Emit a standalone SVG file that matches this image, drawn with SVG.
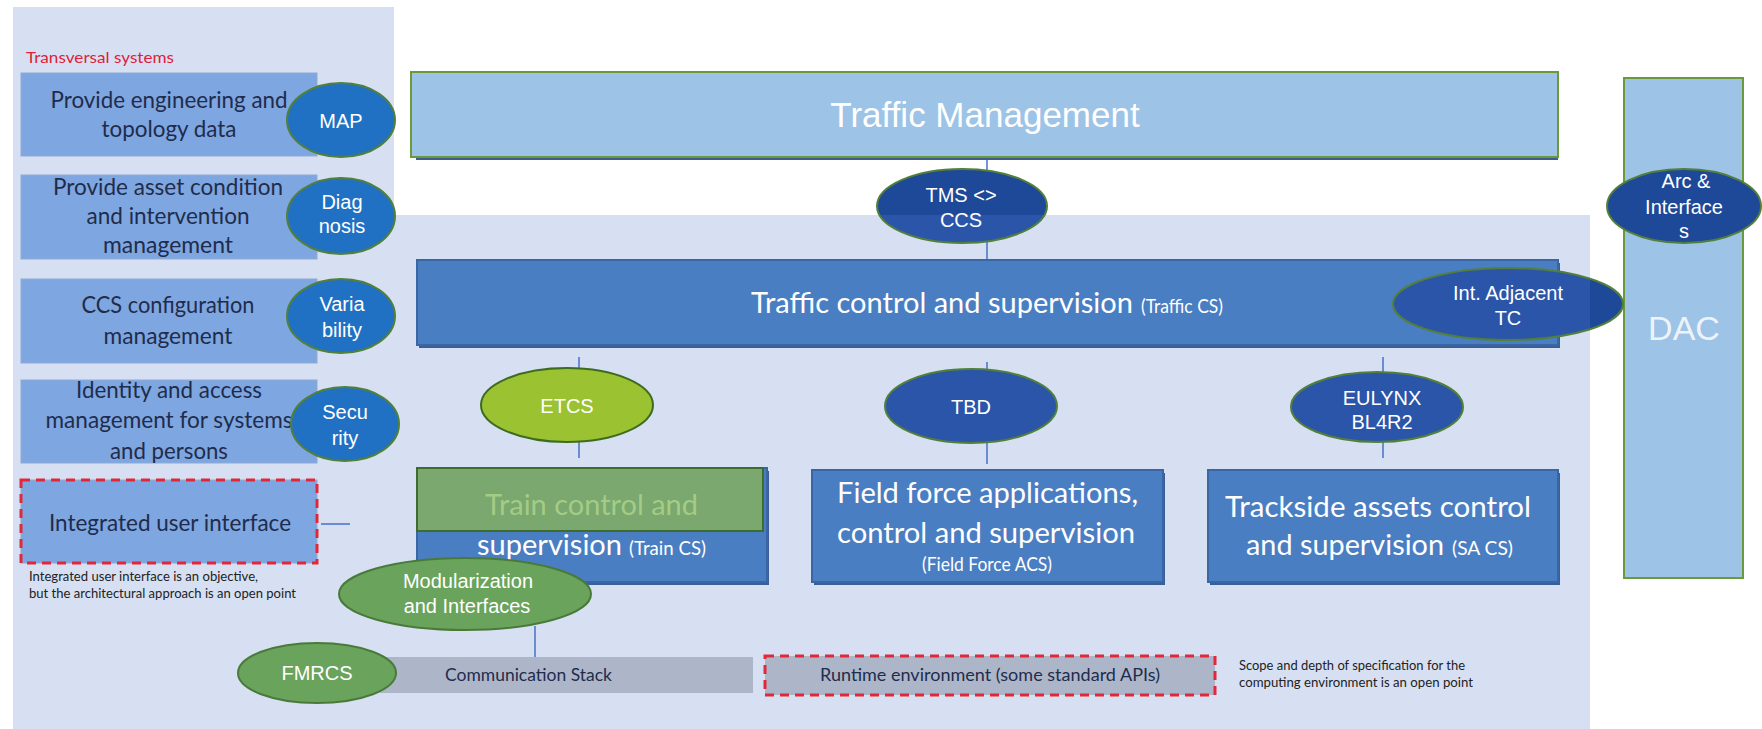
<svg xmlns="http://www.w3.org/2000/svg" width="1762" height="729" viewBox="0 0 1762 729">
  <style>
    .panel { fill: #D6E0F2; }
    .lbox { fill: #7EA6E0; stroke: #8FAAD4; stroke-width: 1; }
    .ltxt { font-family: Lato, "Liberation Sans", sans-serif; font-size: 23px; fill: #1F2C4C; text-anchor: middle; }
    .oval-l { fill: #2071C4; stroke: #527F3A; stroke-width: 2; }
    .oval-d { fill: #2A55A8; stroke: #527F3A; stroke-width: 2; }
    .oval-dd { fill: #1E4898; }
    .oval-g { fill: #6AA35C; stroke: #4A7A3A; stroke-width: 2; }
    .ring { fill: none; stroke: #527F3A; stroke-width: 2; }
    .otxt { font-family: "Liberation Sans", Arial, sans-serif; font-size: 20px; fill: #FFFFFF; text-anchor: middle; }
    .bbox { fill: #4A7EC2; stroke: #3A66A3; stroke-width: 2; }
    .btxt { font-family: Lato, "Liberation Sans", sans-serif; font-size: 28px; fill: #FFFFFF; }
    .stxt { font-family: Lato, "Liberation Sans", sans-serif; font-size: 19px; fill: #FFFFFF; }
    .conn { stroke: #4472C4; stroke-width: 1.5; fill: none; }
    .dash { fill: none; stroke: #E3263A; stroke-width: 3; stroke-dasharray: 9 6; }
    .gbar { fill: #ADB6C9; }
    .note { font-family: Lato, "Liberation Sans", sans-serif; font-size: 13px; fill: #222222; }
    .bar-txt { font-family: Lato, "Liberation Sans", sans-serif; font-size: 17px; fill: #1F2C4C; }
  </style>
  <defs>
    <clipPath id="inPanel">
      <rect x="13" y="215" width="1577" height="514"/>
    </clipPath>
  </defs>

  <rect width="1762" height="729" fill="#FFFFFF"/>

  <!-- background areas -->
  <g id="backgrounds">
    <rect class="panel" x="13" y="7" width="381" height="722"/>
    <rect class="panel" x="13" y="215" width="1577" height="514"/>
    <text x="26" y="63" font-family="Lato, 'Liberation Sans', sans-serif" font-size="15" fill="#E0203A" textLength="148" lengthAdjust="spacingAndGlyphs">Transversal systems</text>
  </g>

  <!-- connectors -->
  <g id="connectors">
    <line class="conn" x1="987" y1="160" x2="987" y2="260"/>
    <line class="conn" x1="579" y1="357" x2="579" y2="458"/>
    <line class="conn" x1="987" y1="362" x2="987" y2="464"/>
    <line class="conn" x1="1383" y1="357" x2="1383" y2="458"/>
    <line class="conn" x1="535" y1="626" x2="535" y2="657"/>
    <line class="conn" x1="321" y1="524" x2="350" y2="524"/>
  </g>

  <!-- Traffic Management -->
  <g id="traffic-management">
    <rect x="416" y="76" width="1142" height="84" fill="#3B5E8F"/>
    <rect x="411" y="72" width="1147" height="85" fill="#9DC3E6" stroke="#6A9A3A" stroke-width="2"/>
    <text x="985" y="127" font-family="'Liberation Sans', Arial, sans-serif" font-size="35" fill="#FFFFFF" text-anchor="middle">Traffic Management</text>
  </g>

  <!-- DAC column -->
  <g id="dac">
    <rect x="1624" y="78" width="119" height="500" fill="#9DC3E6" stroke="#6A9A3A" stroke-width="2"/>
    <text x="1684" y="340" font-family="'Liberation Sans', Arial, sans-serif" font-size="34" fill="#EEF3FA" text-anchor="middle">DAC</text>
  </g>

  <!-- Traffic control and supervision -->
  <g id="traffic-cs">
    <rect x="419" y="263" width="1141" height="85" fill="#3A5E96"/>
    <rect class="bbox" x="417" y="260" width="1141" height="85"/>
    <text class="btxt" x="751" y="313" font-size="31" textLength="382" lengthAdjust="spacingAndGlyphs">Traffic control and supervision</text>
    <text class="stxt" x="1141" y="313" textLength="82" lengthAdjust="spacingAndGlyphs">(Traffic CS)</text>
  </g>

  <!-- Left column: transversal systems -->
  <g id="engineering-data">
    <rect class="lbox" x="21" y="73" width="296" height="83"/>
    <text class="ltxt" x="169" y="108" textLength="237" lengthAdjust="spacingAndGlyphs">Provide engineering and</text>
    <text class="ltxt" x="169" y="137" textLength="135" lengthAdjust="spacingAndGlyphs">topology data</text>
  </g>
  <g id="asset-condition">
    <rect class="lbox" x="21" y="175" width="296" height="84"/>
    <text class="ltxt" x="168" y="195" textLength="230" lengthAdjust="spacingAndGlyphs">Provide asset condition</text>
    <text class="ltxt" x="168" y="224" textLength="163" lengthAdjust="spacingAndGlyphs">and intervention</text>
    <text class="ltxt" x="168" y="253" textLength="130" lengthAdjust="spacingAndGlyphs">management</text>
  </g>
  <g id="ccs-configuration">
    <rect class="lbox" x="21" y="279" width="296" height="84"/>
    <text class="ltxt" x="168" y="313" textLength="173" lengthAdjust="spacingAndGlyphs">CCS configuration</text>
    <text class="ltxt" x="168" y="344" textLength="129" lengthAdjust="spacingAndGlyphs">management</text>
  </g>
  <g id="identity-access">
    <rect class="lbox" x="21" y="380" width="296" height="83"/>
    <text class="ltxt" x="169" y="398" textLength="186" lengthAdjust="spacingAndGlyphs">Identity and access</text>
    <text class="ltxt" x="169" y="428" textLength="247" lengthAdjust="spacingAndGlyphs">management for systems</text>
    <text class="ltxt" x="169" y="459" textLength="118" lengthAdjust="spacingAndGlyphs">and persons</text>
  </g>
  <g id="integrated-ui">
    <rect class="lbox" x="21" y="480" width="296" height="83" stroke="none"/>
    <rect class="dash" x="21" y="480" width="296" height="83"/>
    <text class="ltxt" x="170" y="531" textLength="242" lengthAdjust="spacingAndGlyphs">Integrated user interface</text>
    <text class="note" x="29" y="581" textLength="229" lengthAdjust="spacingAndGlyphs">Integrated user interface is an objective,</text>
    <text class="note" x="29" y="598" textLength="267" lengthAdjust="spacingAndGlyphs">but the architectural approach is an open point</text>
  </g>

  <!-- left ovals -->
  <g id="map">
    <ellipse class="oval-l" cx="341" cy="120" rx="54" ry="37"/>
    <text class="otxt" x="341" y="128">MAP</text>
  </g>
  <g id="diagnosis">
    <ellipse class="oval-l" cx="341" cy="216" rx="54" ry="38"/>
    <text class="otxt" x="342" y="209">Diag</text>
    <text class="otxt" x="342" y="233">nosis</text>
  </g>
  <g id="variability">
    <ellipse class="oval-l" cx="341" cy="316" rx="54" ry="37"/>
    <text class="otxt" x="342" y="311">Varia</text>
    <text class="otxt" x="342" y="337">bility</text>
  </g>
  <g id="security">
    <ellipse class="oval-l" cx="345" cy="424" rx="54" ry="37"/>
    <text class="otxt" x="345" y="419">Secu</text>
    <text class="otxt" x="345" y="445">rity</text>
  </g>

  <!-- interface ovals -->
  <g id="tms-ccs">
    <ellipse class="oval-dd" cx="962" cy="206" rx="85" ry="37"/>
    <ellipse fill="#2A55A8" cx="962" cy="206" rx="85" ry="37" clip-path="url(#inPanel)"/>
    <ellipse class="ring" cx="962" cy="206" rx="85" ry="37"/>
    <text class="otxt" x="961" y="202">TMS &lt;&gt;</text>
    <text class="otxt" x="961" y="227">CCS</text>
  </g>
  <g id="arc-interfaces">
    <ellipse class="oval-dd" cx="1684" cy="206" rx="77" ry="37" stroke="#527F3A" stroke-width="2"/>
    <text class="otxt" x="1686" y="188">Arc &amp;</text>
    <text class="otxt" x="1684" y="214">Interface</text>
    <text class="otxt" x="1684" y="238">s</text>
  </g>
  <g id="int-adjacent">
    <ellipse class="oval-dd" cx="1508" cy="304" rx="115" ry="36"/>
    <ellipse fill="#2A55A8" cx="1508" cy="304" rx="115" ry="36" clip-path="url(#inPanel)"/>
    <ellipse class="ring" cx="1508" cy="304" rx="115" ry="36"/>
    <text class="otxt" x="1508" y="300">Int. Adjacent</text>
    <text class="otxt" x="1508" y="325">TC</text>
  </g>

  <!-- subsystem boxes -->
  <g id="train-cs">
    <rect x="419" y="471" width="350" height="114" fill="#3A5E96"/>
    <rect class="bbox" x="417" y="468" width="350" height="114"/>
    <rect x="417" y="468" width="346" height="63" fill="#7AA86E" stroke="#3E6B2E" stroke-width="2"/>
    <text class="btxt" x="485" y="515" fill="#A4CC86" style="fill:#A4CC86" textLength="213" lengthAdjust="spacingAndGlyphs">Train control and</text>
    <text class="btxt" x="477" y="555" font-size="31" textLength="145" lengthAdjust="spacingAndGlyphs">supervision</text>
    <text class="stxt" x="629" y="555" textLength="77" lengthAdjust="spacingAndGlyphs">(Train CS)</text>
  </g>
  <g id="field-force">
    <rect x="814" y="473" width="351" height="112" fill="#3A5E96"/>
    <rect class="bbox" x="812" y="470" width="351" height="112"/>
    <text class="btxt" x="837" y="503" textLength="301" lengthAdjust="spacingAndGlyphs">Field force applications,</text>
    <text class="btxt" x="837" y="543" textLength="298" lengthAdjust="spacingAndGlyphs">control and supervision</text>
    <text class="stxt" x="922" y="571" textLength="130" lengthAdjust="spacingAndGlyphs">(Field Force ACS)</text>
  </g>
  <g id="trackside">
    <rect x="1210" y="473" width="350" height="112" fill="#3A5E96"/>
    <rect class="bbox" x="1208" y="470" width="350" height="112"/>
    <text class="btxt" x="1225" y="517" textLength="306" lengthAdjust="spacingAndGlyphs">Trackside assets control</text>
    <text class="btxt" x="1246" y="555" textLength="198" lengthAdjust="spacingAndGlyphs">and supervision</text>
    <text class="stxt" x="1452" y="555" font-size="17" textLength="61" lengthAdjust="spacingAndGlyphs">(SA CS)</text>
  </g>

  <!-- lower interface ovals -->
  <g id="etcs">
    <ellipse cx="567" cy="405" rx="86" ry="37" fill="#9BC231" stroke="#3D6B1F" stroke-width="2"/>
    <text class="otxt" x="567" y="413">ETCS</text>
  </g>
  <g id="tbd">
    <ellipse class="oval-d" cx="971" cy="406" rx="86" ry="37"/>
    <text class="otxt" x="971" y="414">TBD</text>
  </g>
  <g id="eulynx">
    <ellipse class="oval-d" cx="1377" cy="407" rx="86" ry="35"/>
    <text class="otxt" x="1382" y="405" font-size="17">EULYNX</text>
    <text class="otxt" x="1382" y="429" font-size="17">BL4R2</text>
  </g>

  <!-- computing platform -->
  <g id="communication-stack">
    <rect class="gbar" x="380" y="657" width="373" height="36"/>
    <text class="bar-txt" x="445" y="681" textLength="167" lengthAdjust="spacingAndGlyphs">Communication Stack</text>
  </g>
  <g id="runtime-environment">
    <rect class="gbar" x="765" y="656" width="450" height="39"/>
    <rect class="dash" x="765" y="656" width="450" height="39"/>
    <text class="bar-txt" x="820" y="681" textLength="340" lengthAdjust="spacingAndGlyphs">Runtime environment (some standard APIs)</text>
    <text class="note" x="1239" y="670" font-size="12" textLength="226" lengthAdjust="spacingAndGlyphs">Scope and depth of specification for the</text>
    <text class="note" x="1239" y="687" font-size="12" textLength="234" lengthAdjust="spacingAndGlyphs">computing environment is an open point</text>
  </g>
  <g id="modularization">
    <ellipse class="oval-g" cx="465" cy="594" rx="126" ry="36"/>
    <text class="otxt" x="468" y="588">Modularization</text>
    <text class="otxt" x="467" y="613">and Interfaces</text>
  </g>
  <g id="fmrcs">
    <ellipse class="oval-g" cx="317" cy="673" rx="79" ry="30"/>
    <text class="otxt" x="317" y="680">FMRCS</text>
  </g>
</svg>
